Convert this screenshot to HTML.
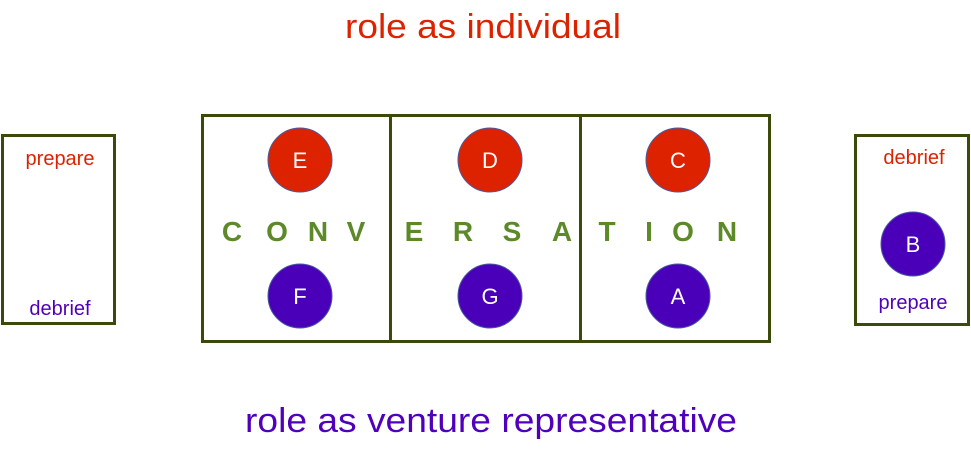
<!DOCTYPE html>
<html><head><meta charset="utf-8"><style>
html,body{margin:0;padding:0;background:#fff}
svg{display:block}
</style></head><body>
<svg width="971" height="450" viewBox="0 0 971 450" xmlns="http://www.w3.org/2000/svg" font-family="Liberation Sans, Arial, sans-serif">
<rect width="971" height="450" fill="#fff"/>
<text x="483" y="38" font-size="34" fill="#dd2200" text-anchor="middle" textLength="276" lengthAdjust="spacingAndGlyphs">role as individual</text>
<text x="491" y="432" font-size="34" fill="#5000bb" text-anchor="middle" textLength="492" lengthAdjust="spacingAndGlyphs">role as venture representative</text>
<g fill="none" stroke="#394a0a" stroke-width="3">
<rect x="2.5" y="135.5" width="112" height="188"/>
<rect x="202.5" y="115.5" width="567" height="226"/>
<line x1="390.5" y1="115" x2="390.5" y2="341"/>
<line x1="580.5" y1="115" x2="580.5" y2="341"/>
<rect x="855.5" y="135.5" width="113" height="189"/>
</g>
<text x="60" y="165" font-size="20" fill="#dd2200" text-anchor="middle">prepare</text>
<text x="60" y="315" font-size="20" fill="#5000bb" text-anchor="middle">debrief</text>
<text x="914" y="164" font-size="20" fill="#dd2200" text-anchor="middle">debrief</text>
<text x="913" y="309" font-size="20" fill="#5000bb" text-anchor="middle">prepare</text>
<g stroke="#4a5aa0" stroke-width="1">
<circle cx="300" cy="160" r="32" fill="#dd2200"/>
<circle cx="490" cy="160" r="32" fill="#dd2200"/>
<circle cx="678" cy="160" r="32" fill="#dd2200"/>
<circle cx="300" cy="296" r="32" fill="#4a00b8"/>
<circle cx="490" cy="296" r="32" fill="#4a00b8"/>
<circle cx="678" cy="296" r="32" fill="#4a00b8"/>
<circle cx="913" cy="244" r="32" fill="#4a00b8"/>
</g>
<g fill="#fff" font-size="22" text-anchor="middle">
<text x="300" y="168">E</text><text x="490" y="168">D</text><text x="678" y="168">C</text>
<text x="300" y="304">F</text><text x="490" y="304">G</text><text x="678" y="304">A</text>
<text x="913" y="252">B</text>
</g>
<g fill="#5c8a28" font-size="28" font-weight="bold" text-anchor="middle">
<text x="232" y="241">C</text><text x="277" y="241">O</text><text x="318" y="241">N</text><text x="356" y="241">V</text>
<text x="414" y="241">E</text><text x="463" y="241">R</text><text x="512" y="241">S</text><text x="562" y="241">A</text>
<text x="607" y="241">T</text><text x="649" y="241">I</text><text x="683" y="241">O</text><text x="727" y="241">N</text>
</g>
</svg>
</body></html>
